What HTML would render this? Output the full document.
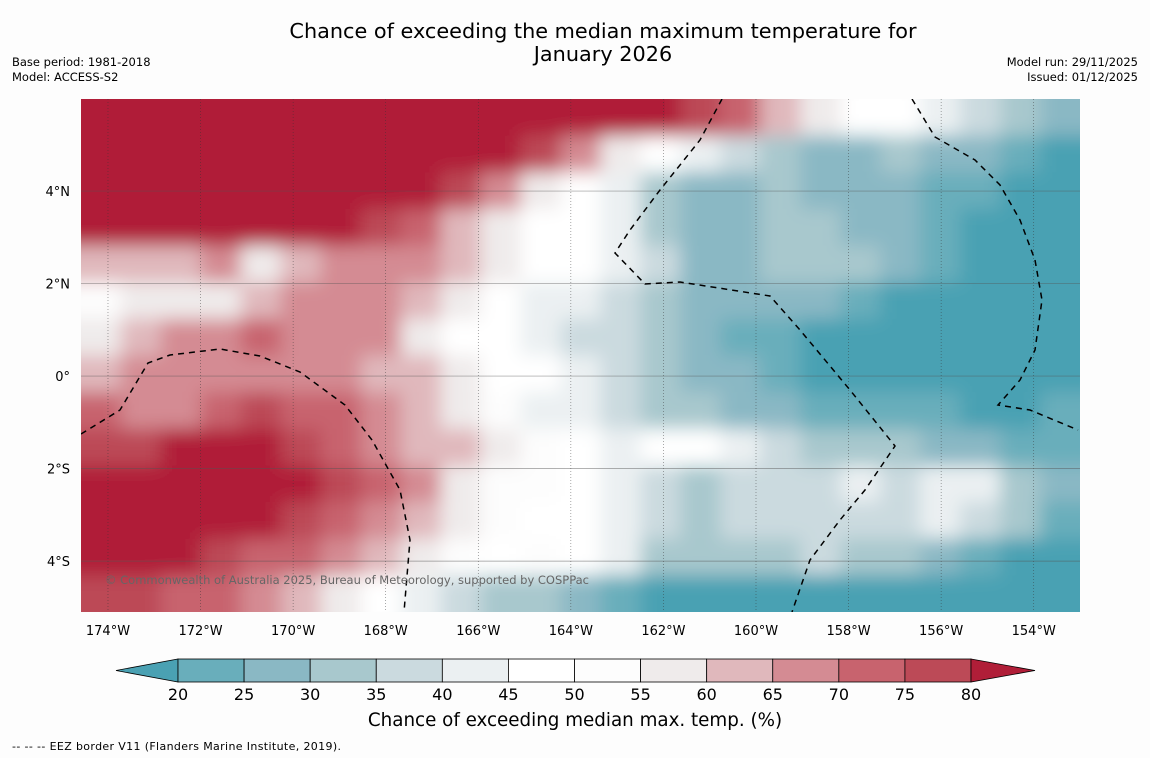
<!DOCTYPE html>
<html><head><meta charset="utf-8"><style>
body{margin:0;background:#fdfdfd;width:1150px;height:758px;overflow:hidden;font-family:"DejaVu Sans","Liberation Sans",sans-serif;}
svg{position:absolute;left:0;top:0}
</style></head><body>
<svg id="chart" width="1150" height="758">
<text x="603" y="38" text-anchor="middle" font-size="20.8" fill="#000">Chance of exceeding the median maximum temperature for</text>
<text x="603" y="61" text-anchor="middle" font-size="20.8" fill="#000">January 2026</text>
<text x="12" y="66" font-size="11.5">Base period: 1981-2018</text>
<text x="12" y="81" font-size="11.5">Model: ACCESS-S2</text>
<text x="1138" y="66" font-size="11.5" text-anchor="end">Model run: 29/11/2025</text>
<text x="1138" y="81" font-size="11.5" text-anchor="end">Issued: 01/12/2025</text>
<defs>
<clipPath id="plotclip"><rect x="81" y="99" width="999" height="513"/></clipPath>
<filter id="soft" x="-5%" y="-5%" width="110%" height="110%"><feGaussianBlur stdDeviation="9"/></filter>
</defs>
<rect x="81" y="99" width="999" height="513" fill="#8ab8c4"/>
<g clip-path="url(#plotclip)"><g id="cells" filter="url(#soft)"></g></g>
<g id="grid"></g>
<g id="eez" clip-path="url(#plotclip)" fill="none" stroke="#000" stroke-width="1.5" stroke-dasharray="6,5">
<path d="M81,434 L120,410 L148,363 L170,355 L220,349 L260,356 L300,372 L345,405 L372,440 L400,490 L410,540 L404,612"/>
<path d="M722,99 L700,140 L660,190 L630,230 L615,253 L645,284 L680,282 L770,296 L800,330 L850,390 L895,446 L865,490 L840,520 L810,560 L792,612"/>
<path d="M912,99 L935,137 L975,160 L1000,185 L1020,220 L1035,260 L1042,300 L1035,350 L1020,380 L998,405 L1030,410 L1078,430"/>
</g>
<text x="105" y="584" font-size="11.5" fill="#666" textLength="484">© Commonwealth of Australia 2025, Bureau of Meteorology, supported by COSPPac</text>
<g id="xticks"></g>
<g id="yticks"></g>
<g id="cbar"></g>
<text x="575" y="726" text-anchor="middle" font-size="18.3">Chance of exceeding median max. temp. (%)</text>
<text x="12" y="750" font-size="11" textLength="329">--  --  -- EEZ border V11 (Flanders Marine Institute, 2019).</text>
</svg>
<script>
const levels=[20,25,30,35,40,45,50,55,60,65,70,75,80];
const levelColors=["#4aa1b3","#69aebb","#8ab8c4","#a8c8cd","#cbdadf","#ebf0f2","#ffffff","#fdfdfd","#efebeb","#e0b8bc","#d48b93","#c8636e","#bc4a57","#b01e38"];
const lonTicks=["174°W","172°W","170°W","168°W","166°W","164°W","162°W","160°W","158°W","156°W","154°W"];
const lonTickVals=[-174,-172,-170,-168,-166,-164,-162,-160,-158,-156,-154];
const latTicks=["4°N","2°N","0°","2°S","4°S"];
const latTickVals=[4,2,0,-2,-4];
const cbTicks=["20","25","30","35","40","45","50","55","60","65","70","75","80"];
const row0=[85,85,85,85,85,85,85,85,85,85,85,85,85,85,85,77,72,62,57,47,47,42,37,32,27];
const row1=[85,85,85,85,85,85,85,85,85,85,85,77,67,57,47,40,35,32,27,27,32,27,27,22,17];
const row2=[85,85,85,85,85,85,85,85,85,77,67,57,47,40,32,27,27,32,27,27,27,22,22,17,17];
const row3=[85,85,85,85,85,85,85,77,72,62,57,47,45,40,32,27,27,32,32,27,27,22,17,17,17];
const row4=[62,62,62,67,57,62,67,67,67,62,57,47,45,42,35,27,27,32,32,32,27,22,17,17,17];
const row5=[50,57,57,57,62,67,67,67,62,57,47,40,40,35,32,27,27,27,27,22,17,17,17,17,17];
const row6=[57,62,67,67,72,67,67,67,57,47,45,40,37,37,32,27,22,22,17,17,17,17,17,17,17];
const row7=[62,67,67,67,67,67,67,62,62,57,47,45,40,37,32,27,27,22,17,17,17,17,17,17,17];
const row8=[72,67,67,72,77,72,72,67,62,57,50,42,40,37,32,32,27,27,22,22,22,22,17,17,22];
const row9=[77,77,85,85,85,77,72,67,62,62,57,50,45,40,47,47,42,37,32,32,32,27,27,22,22];
const row10=[85,85,85,85,85,85,77,72,67,57,50,50,45,40,37,32,37,37,37,40,37,42,42,32,27];
const row11=[85,85,85,85,85,77,72,67,62,57,50,47,47,40,35,32,35,37,35,37,37,42,37,32,22];
const row12=[85,85,85,77,72,72,67,62,57,50,47,50,45,40,32,30,32,32,35,32,32,27,22,17,17];
const row13=[77,77,72,72,67,62,57,47,42,37,32,32,27,22,17,17,17,17,17,17,17,17,17,17,17];
const grid=[row0,row1,row2,row3,row4,row5,row6,row7,row8,row9,row10,row11,row12,row13];

const NS="http://www.w3.org/2000/svg";
const X0=81,X1=1080,Y0=99,Y1=612;
const lonMin=-174.583,lonMax=-153.0,latMax=5.99,latMin=-5.1;
function xScale(lon){return X0+(lon-lonMin)/(lonMax-lonMin)*(X1-X0);}
function yScale(lat){return Y0+(latMax-lat)/(latMax-latMin)*(Y1-Y0);}
function colorFor(v){let i=0;while(i<levels.length&&v>=levels[i])i++;return levelColors[i];}
function mk(tag,attrs,parent){const e=document.createElementNS(NS,tag);for(const k in attrs)e.setAttribute(k,attrs[k]);parent.appendChild(e);return e;}

const cells=document.getElementById('cells');
const nR=grid.length,nC=grid[0].length;
const cw=(X1-X0)/nC,ch=(Y1-Y0)/nR;
grid.forEach((row,r)=>row.forEach((v,c)=>{
  let x=X0+c*cw,y=Y0+r*ch,w=cw+0.6,h=ch+0.6;
  if(c===0){x-=20;w+=20;} if(c===nC-1){w+=20;}
  if(r===0){y-=20;h+=20;} if(r===nR-1){h+=20;}
  const e=mk('rect',{x:x,y:y,width:w,height:h,fill:colorFor(v)},cells);
  
  
}));

const g=document.getElementById('grid');
lonTickVals.forEach(l=>{const e=mk('line',{x1:xScale(l),x2:xScale(l),y1:Y0,y2:Y1,stroke:"#333",'stroke-width':0.6,'stroke-dasharray':"1,2",opacity:0.7},g);
  
  });
latTickVals.forEach(l=>{const e=mk('line',{x1:X0,x2:X1,y1:yScale(l),y2:yScale(l),stroke:"#555",'stroke-width':0.7,opacity:0.6},g);
  
  });

const xt=document.getElementById('xticks');
lonTickVals.forEach((l,i)=>{const t=mk('text',{x:xScale(l),y:635,'text-anchor':'middle','font-size':13},xt);t.textContent=lonTicks[i];
  
  });
const yt=document.getElementById('yticks');
latTickVals.forEach((l,i)=>{const t=mk('text',{x:70,y:yScale(l)+5,'text-anchor':'end','font-size':13},yt);t.textContent=latTicks[i];
  
  });

const cb=document.getElementById('cbar');
const cbx0=178,cbx1=971,cby0=659,cby1=682,bw=(cbx1-cbx0)/(levels.length-1);
const lt=mk('polygon',{points:`116,${(cby0+cby1)/2} ${cbx0},${cby0} ${cbx0},${cby1}`,fill:levelColors[0],stroke:"#000",'stroke-width':0.8},cb);


for(let i=0;i<levels.length-1;i++){
  const r=mk('rect',{x:cbx0+i*bw,y:cby0,width:bw,height:cby1-cby0,fill:levelColors[i+1],stroke:"#000",'stroke-width':0.8},cb);
  
  
}
const rt=mk('polygon',{points:`${cbx1},${cby0} 1035,${(cby0+cby1)/2} ${cbx1},${cby1}`,fill:levelColors[13],stroke:"#000",'stroke-width':0.8},cb);


cbTicks.forEach((s,i)=>{const t=mk('text',{x:cbx0+i*bw,y:700,'text-anchor':'middle','font-size':16},cb);t.textContent=s;
  
  });
</script>
</body></html>
